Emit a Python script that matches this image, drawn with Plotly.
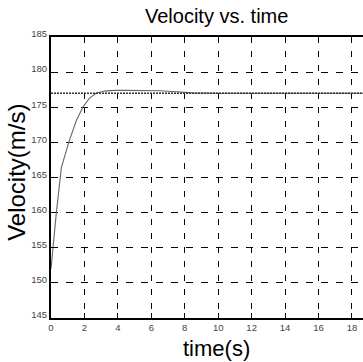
import plotly.graph_objects as go

# ---- data ----
time_s = [0, 0.06, 0.12, 0.32, 0.62, 1.06, 1.5, 1.9, 2.3, 2.7, 3.2, 3.8, 4.5, 5.5, 6.5, 7.5, 8.5, 10, 12, 14, 16, 18, 20]
velocity = [152.0, 153.5, 155.0, 160.0, 166.4, 170.0, 173.0, 175.0, 176.3, 177.0, 177.3, 177.4, 177.4, 177.4, 177.35, 177.2, 177.05, 177.0, 177.0, 177.0, 177.0, 177.0, 177.0]
ref_time = [0, 20]
ref_velocity = [177.0, 177.0]

x_ticks = [0, 2, 4, 6, 8, 10, 12, 14, 16, 18]
y_ticks = [145, 150, 155, 160, 165, 170, 175, 180, 185]

FONT = "Liberation Sans, Arial, sans-serif"

fig = go.Figure()
fig.add_trace(go.Scatter(x=ref_time, y=ref_velocity, mode="lines",
                         line=dict(color="#333333", width=1.6, dash="2px,1px"),
                         xaxis="x2", yaxis="y", showlegend=False, hoverinfo="skip"))
fig.add_trace(go.Scatter(x=time_s, y=velocity, mode="lines",
                         line=dict(color="#666666", width=1.1),
                         showlegend=False))

axis_common = dict(showline=True, linecolor="black", linewidth=2,
                   ticks="inside", ticklen=5, tickcolor="black", tickwidth=1,
                   zeroline=False,
                   tickfont=dict(family=FONT, size=9.5, color="#444444"))

fig.update_layout(
    width=363, height=362,
    margin=dict(l=51, r=0, t=37, b=44),
    paper_bgcolor="white", plot_bgcolor="white",
    xaxis=dict(range=[0, 18.66], tickmode="array", tickvals=x_ticks,
               ticktext=[str(v) for v in x_ticks],
               showgrid=True, gridcolor="black", gridwidth=1, griddash="6px,8px",
               **axis_common),
    xaxis2=dict(overlaying="x", side="top", matches="x", showticklabels=False,
                showgrid=False, tickmode="array", tickvals=x_ticks,
                showline=True, linecolor="black", linewidth=2,
                ticks="inside", ticklen=5, tickcolor="black", zeroline=False),
    yaxis=dict(range=[145, 185], tickmode="array", tickvals=y_ticks,
               ticktext=[str(v) for v in y_ticks],
               showgrid=True, gridcolor="black", gridwidth=1, griddash="7px,8px",
               ticklabelshift=-3,
               **axis_common),
    annotations=[
        dict(text="Velocity vs. time", xref="paper", yref="paper",
             x=0.532, y=1.073, showarrow=False, xanchor="center", yanchor="middle",
             font=dict(family=FONT, size=20, color="black")),
        dict(text="time(s)", xref="paper", yref="paper",
             x=0.532, y=-0.11, showarrow=False, xanchor="center", yanchor="middle",
             font=dict(family=FONT, size=22, color="black")),
        dict(text="Velocity(m/s)", xref="paper", yref="paper",
             x=-0.109, y=0.52, showarrow=False, xanchor="center", yanchor="middle",
             textangle=-90,
             font=dict(family=FONT, size=24, color="black")),
    ],
)

fig.write_html("out.html", config={"displayModeBar": False},
               post_script="document.body.style.margin='0';document.body.style.overflow='hidden';")
